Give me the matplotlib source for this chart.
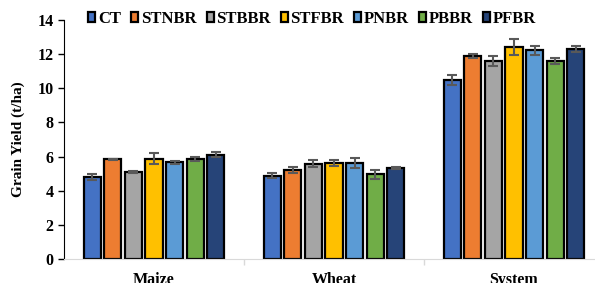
import numpy as np
import matplotlib
matplotlib.use('Agg')
import matplotlib.pyplot as plt

# data
crops = ['Maize', 'Wheat', 'System']
treatments = ['CT', 'STNBR', 'STBBR', 'STFBR', 'PNBR', 'PBBR', 'PFBR']
colors = ['#4472C4', '#ED7D31', '#A5A5A5', '#FFC000', '#5B9BD5', '#70AD47', '#264478']

maize = [4.78, 5.84, 5.10, 5.88, 5.66, 5.84, 6.11]
wheat = [4.88, 5.21, 5.58, 5.62, 5.64, 4.96, 5.33]
system = [10.47, 11.89, 11.60, 12.42, 12.22, 11.60, 12.30]

maize_err = [0.18, 0.04, 0.08, 0.30, 0.10, 0.12, 0.15]
wheat_err = [0.14, 0.15, 0.22, 0.16, 0.30, 0.26, 0.06]
system_err = [0.29, 0.14, 0.29, 0.49, 0.25, 0.18, 0.15]

plt.rcParams['font.family'] = ['Liberation Serif', 'DejaVu Serif']
plt.rcParams['font.weight'] = 'bold'

fig = plt.figure(figsize=(5.95, 2.83), dpi=100)
ax = fig.add_axes([64 / 595, 24 / 283, 540 / 595, 239 / 283])

values = np.array([maize, wheat, system])
errors = np.array([maize_err, wheat_err, system_err])
x = np.arange(len(crops))
n = len(treatments)
pitch = 0.8 / n
width = pitch * 0.84

for i, name in enumerate(treatments):
    pos = x - 0.4 + pitch * (i + 0.5)
    ax.bar(pos, values[:, i], width, color=colors[i], edgecolor='black',
           linewidth=1.6, label=name, zorder=2)
    ax.errorbar(pos, values[:, i], yerr=errors[:, i], fmt='none',
                ecolor='#595959', elinewidth=1.5, capsize=3.5, capthick=1.5, zorder=3)

ax.set_xlim(-0.5, 2.5)
ax.set_ylim(0, 14)
ax.set_yticks(np.arange(0, 15, 2))
ax.set_xticks(x)
ax.set_xticklabels(crops, fontsize=11.5, fontweight='bold')
ax.set_xticks([0.5, 1.5], minor=True)
ax.tick_params(axis='x', which='major', length=0, pad=9)
ax.tick_params(axis='x', which='minor', length=4, color='#D9D9D9', width=1)
ax.tick_params(axis='y', labelsize=11.5, length=4, width=1)
for lbl in ax.get_yticklabels():
    lbl.set_fontweight('bold')

ax.spines['top'].set_visible(False)
ax.spines['right'].set_visible(False)
ax.spines['bottom'].set_color('#D9D9D9')
ax.spines['left'].set_color('black')

ax.set_ylabel('Grain Yield (t/ha)', fontsize=11, fontweight='bold', labelpad=9)

leg = ax.legend(loc='upper left', bbox_to_anchor=(0.033, 1.065), ncol=7, frameon=False,
                handlelength=0.42, handleheight=0.5, handletextpad=0.15,
                columnspacing=0.62, borderaxespad=0,
                prop={'weight': 'bold', 'size': 12})

fig.savefig('out.png', dpi=100)
